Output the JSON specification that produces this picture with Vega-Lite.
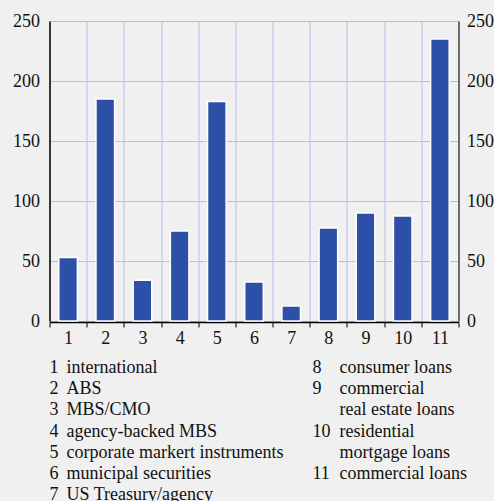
{
  "$schema": "https://vega.github.io/schema/vega-lite/v6.json",
  "background": "#f0f0f0",
  "padding": {"top": 12, "left": 12.5, "right": 0, "bottom": 0},
  "config": {
    "view": {"stroke": null},
    "font": "Liberation Serif, Times New Roman, DejaVu Serif, serif",
    "axis": {"labelFont": "Liberation Serif, Times New Roman, DejaVu Serif, serif", "labelFontSize": 18, "labelColor": "#111111"}
  },
  "spacing": 12,
  "vconcat": [
    {
      "width": 409,
      "height": 300,
      "data": {"values": [
        {"id": 1, "value": 53},
        {"id": 2, "value": 185},
        {"id": 3, "value": 34},
        {"id": 4, "value": 75},
        {"id": 5, "value": 183},
        {"id": 6, "value": 32.5},
        {"id": 7, "value": 12.5},
        {"id": 8, "value": 77.5},
        {"id": 9, "value": 90},
        {"id": 10, "value": 87.5},
        {"id": 11, "value": 235}
      ]},
      "layer": [
        {
          "mark": {"type": "bar", "color": "#2c4fa7", "stroke": "#ffffff", "strokeWidth": 1.5, "width": {"band": 0.5}},
          "encoding": {
            "x": {"field": "id", "type": "ordinal", "sort": "ascending",
              "scale": {"paddingInner": 0, "paddingOuter": 0},
              "axis": {"title": null, "labelAngle": 0, "grid": true, "gridColor": "#b6bdea", "gridWidth": 1,
                "bandPosition": 0, "ticks": true, "tickBand": "extent", "tickColor": "#000000", "tickSize": 5,
                "domainColor": "#000000", "domainWidth": 1.5, "labelPadding": 2, "offset": 1}},
            "y": {"field": "value", "type": "quantitative",
              "scale": {"domain": [0, 250], "nice": false},
              "axis": {"title": null, "orient": "left", "values": [0, 50, 100, 150, 200, 250], "grid": true,
                "gridColor": "#b6bdea", "gridWidth": 1, "ticks": false, "labelPadding": 10,
                "domainColor": "#000000", "domainWidth": 1.5}}
          }
        },
        {
          "mark": {"type": "bar", "opacity": 0, "width": {"band": 0.5}},
          "encoding": {
            "x": {"field": "id", "type": "ordinal", "sort": "ascending"},
            "y": {"field": "value", "type": "quantitative",
              "axis": {"title": null, "orient": "right", "values": [0, 50, 100, 150, 200, 250], "grid": false,
                "ticks": false, "labelPadding": 8, "domainColor": "#6b6b6b", "domainWidth": 2}}
          }
        }
      ],
      "resolve": {"axis": {"y": "independent"}}
    },
    {
      "width": 409,
      "height": 127,
      "data": {"values": [
        {"col": 1, "line": 1, "num": "1", "label": "international"},
        {"col": 1, "line": 2, "num": "2", "label": "ABS"},
        {"col": 1, "line": 3, "num": "3", "label": "MBS/CMO"},
        {"col": 1, "line": 4, "num": "4", "label": "agency-backed MBS"},
        {"col": 1, "line": 5, "num": "5", "label": "corporate markert instruments"},
        {"col": 1, "line": 6, "num": "6", "label": "municipal securities"},
        {"col": 1, "line": 7, "num": "7", "label": "US Treasury/agency"},
        {"col": 2, "line": 1, "num": "8", "label": "consumer loans"},
        {"col": 2, "line": 2, "num": "9", "label": "commercial"},
        {"col": 2, "line": 3, "num": "", "label": "real estate loans"},
        {"col": 2, "line": 4, "num": "10", "label": "residential"},
        {"col": 2, "line": 5, "num": "", "label": "mortgage loans"},
        {"col": 2, "line": 6, "num": "11", "label": "commercial loans"}
      ]},
      "layer": [
        {
          "mark": {"type": "text", "align": "left", "baseline": "middle", "font": "Liberation Serif, Times New Roman, DejaVu Serif, serif", "fontSize": 18, "color": "#111111"},
          "encoding": {
            "x": {"field": "col", "type": "quantitative", "scale": {"domain": [1, 2], "range": [0, 263]}, "axis": null},
            "y": {"field": "line", "type": "quantitative", "scale": {"domain": [1, 7], "reverse": true}, "axis": null},
            "text": {"field": "num"}
          }
        },
        {
          "mark": {"type": "text", "align": "left", "baseline": "middle", "font": "Liberation Serif, Times New Roman, DejaVu Serif, serif", "fontSize": 18, "color": "#111111"},
          "encoding": {
            "x": {"field": "col", "type": "quantitative", "scale": {"domain": [1, 2], "range": [17, 290]}, "axis": null},
            "y": {"field": "line", "type": "quantitative", "scale": {"domain": [1, 7], "reverse": true}, "axis": null},
            "text": {"field": "label"}
          }
        }
      ],
      "resolve": {"scale": {"x": "independent"}}
    }
  ]
}
